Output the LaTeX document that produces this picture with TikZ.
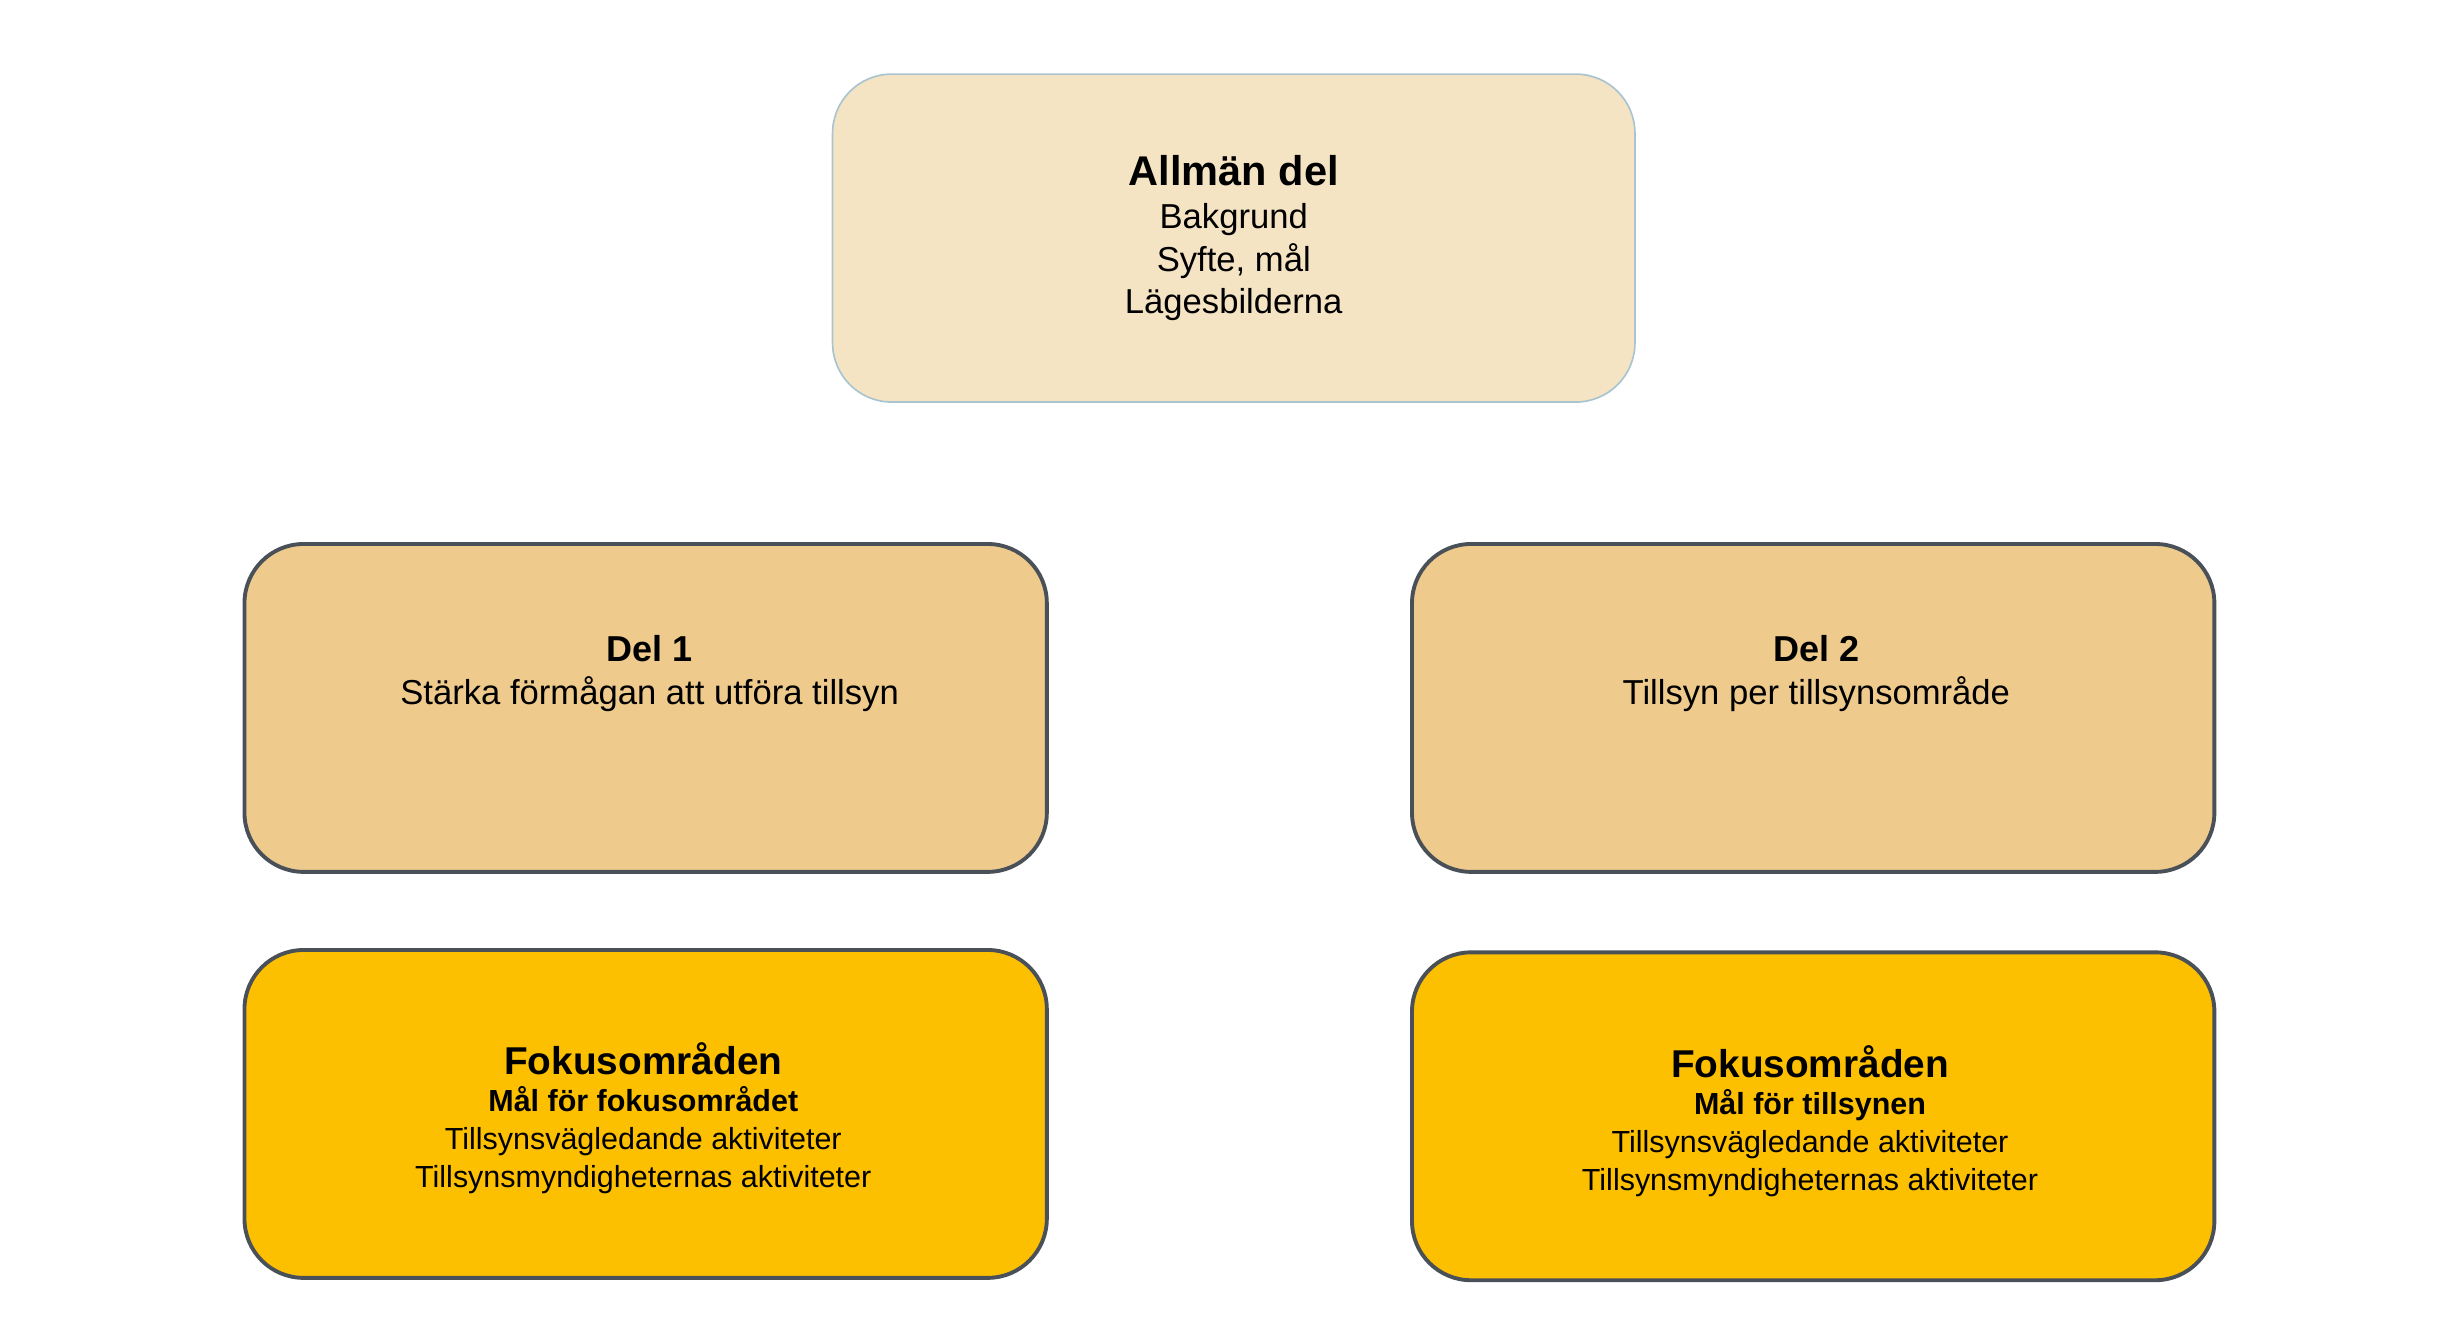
\documentclass[tikz,border=0pt]{standalone}
\usepackage{fontspec}
\setmainfont{Liberation Sans}
\usetikzlibrary{positioning}
\definecolor{topfill}{HTML}{F5E4C3}
\definecolor{topline}{HTML}{A9C4D0}
\definecolor{delfill}{HTML}{EECB8D}
\definecolor{fokfill}{HTML}{FDC000}
\definecolor{boxline}{HTML}{4A5058}
\begin{document}
\begin{tikzpicture}[x=0.02cm,y=-0.02cm]
				\tikzstyle{box}=[rectangle,rounded corners=0.75cm,minimum width=10.18cm,minimum height=4.16cm,inner sep=0pt]
			    \tikzstyle{top box}=[box,fill=topfill,draw=topline,line width=0.6pt]
			    \tikzstyle{del box}=[box,fill=delfill,draw=boxline,line width=1.4pt]
			    \tikzstyle{fok box}=[box,fill=fokfill,draw=boxline,line width=1.4pt]
			    \tikzstyle{txt}=[align=center,font=\fontsize{12.5}{15.5}\selectfont,inner sep=0pt]
			    \useasboundingbox (0,0) rectangle (1552,835);

			    % Boxes
			    \node[top box] (allman) at (782.5,151) {};
			    \node[del box] (del1) at (409.5,449) {};
			    \node[del box] (del2) at (1150,449) {};
			    \node[fok box] (fok1) at (409.5,706.5) {};
			    \node[fok box] (fok2) at (1150,708) {};

			    % Texts
			    \node[txt] (allmantxt) at (782.5,151) {{\bfseries\fontsize{15}{19}\selectfont Allmän del}\\Bakgrund\\Syfte, mål\\Lägesbilderna};
			    \node[txt] (del1txt) at (412,427) {{\bfseries\fontsize{13}{16}\selectfont Del 1}\\Stärka förmågan att utföra tillsyn};
			    \node[txt] (del2txt) at (1152,427) {{\bfseries\fontsize{13}{16}\selectfont Del 2}\\Tillsyn per tillsynsområde};
			    \node[txt,font=\fontsize{11}{13.6}\selectfont] (fok1txt) at (408,709) {{\bfseries\fontsize{14}{17}\selectfont Fokusområden}\\\textbf{Mål för fokusområdet}\\Tillsynsvägledande aktiviteter\\Tillsynsmyndigheternas aktiviteter};
			    \node[txt,font=\fontsize{11}{13.6}\selectfont] (fok2txt) at (1148,711) {{\bfseries\fontsize{14}{17}\selectfont Fokusområden}\\\textbf{Mål för tillsynen}\\Tillsynsvägledande aktiviteter\\Tillsynsmyndigheternas aktiviteter};

			\end{tikzpicture}
\end{document}
